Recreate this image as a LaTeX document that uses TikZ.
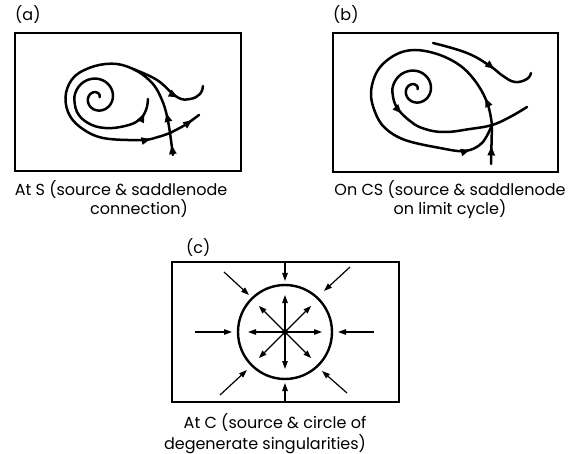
\documentclass[tikz,border=0pt]{standalone}
\usepackage{fontspec}
\setmainfont{Poppins}
\usetikzlibrary{arrows.meta,decorations.markings}
\tikzset{
  traj/.style={line width=2.5pt, line cap=round, line join=round},
  frame/.style={line width=2pt},
  am/.style={postaction={decorate, decoration={markings, mark=at position #1 with {\arrow{Triangle[length=9pt,width=7pt]}}}}},
  ar/.style={postaction={decorate, decoration={markings, mark=at position #1 with {\arrowreversed{Triangle[length=9pt,width=7pt]}}}}},
  ray/.style={line width=1.2pt, -{Triangle[length=8pt,width=5.5pt]}},
  capt/.style={font=\fontsize{16}{18}\selectfont, inner sep=0pt, anchor=base},
  lbl/.style={font=\fontsize{16}{18}\selectfont, inner sep=0pt, anchor=base west},
}
\begin{document}
\begin{tikzpicture}[x=1pt,y=-1pt]
\useasboundingbox (0,0) rectangle (570,454);
% ---------- panel (a)
\node[lbl] (la) at (15,21) {(a)};
\draw[frame] (15,33) rectangle (241,171);
\draw[traj] plot[domain=0.3:9.4248, samples=120, smooth, variable=\t]
  ({97+(2+2.2*\t)*cos(\t r)}, {98-(2+2.2*\t)*sin(\t r)});
\draw[traj, am=0.86] plot[smooth, tension=0.7] coordinates
  {(74.3,98) (77,112) (88,123) (105,128) (125,126) (139,120) (146,110) (148,99)};
\coordinate (Sa) at (170,133);
\draw[traj, am=0.45] (173,155) -- (Sa);
\draw[traj, am=0.07, am=0.93] plot[smooth, tension=0.6] coordinates
  {(Sa) (167,116) (162,100) (153,84) (137,71) (117,64) (95,66) (75,76) (66,93) (68,112) (80,127) (103,138) (142,140) (158,137) (Sa)};
\draw[traj, am=0.75] plot[smooth] coordinates {(Sa) (185,125) (199,115)};
\draw[traj, ar=0.38] plot[smooth, tension=0.7] coordinates
  {(203,86) (200,94) (190,99) (177,97) (157,80) (133,69)};
\node[capt] (ca1) at (121,196) {At S (source \& saddlenode};
\node[capt] (ca2) at (139,215) {connection)};
% ---------- panel (b)
\node[lbl] (lb) at (333,21) {(b)};
\draw[frame] (333,33) rectangle (558,172);
\draw[traj] plot[domain=0.3:9.4248, samples=120, smooth, variable=\t]
  ({415+(2+2.2*\t)*cos(\t r)}, {90-(2+2.2*\t)*sin(\t r)});
\coordinate (Sb) at (492,125);
\draw[traj, am=0.16] plot[smooth, tension=0.7] coordinates
  {(392.3,90) (396,106) (410,121) (425,129) (445,132) (470,129) (Sb) (510,117) (527,107)};
\draw[traj, am=0.45] (491,164) -- (Sb);
\draw[traj, am=0.08, am=0.9] plot[smooth, tension=0.6] coordinates
  {(Sb) (488,105) (478,85) (462,67) (440,55) (415,50) (395,55) (378,70) (371,92) (375,112) (385,128) (405,140) (440,148) (465,151) (482,143) (Sb)};
\draw[traj, ar=0.4] plot[smooth, tension=0.7] coordinates
  {(531,73) (527,79) (515,82) (503,76) (490,66) (467,53) (433,43)};
\node[capt] (cb1) at (450,196) {On CS (source \& saddlenode};
\node[capt] (cb2) at (450,215) {on limit cycle)};
% ---------- panel (c)
\node[lbl] (lc) at (186,254) {(c)};
\draw[frame] (172,262) rectangle (399,402);
\node[circle, draw, line width=2.4pt, minimum size=94pt, inner sep=0pt] (circ) at (285,332) {};
\node[circle, fill, inner sep=0pt, minimum size=6pt] (ctr) at (285,332) {};
\foreach \a in {0,45,...,315}
  \draw[ray] (ctr.center) -- ++({37*cos(\a)},{-37*sin(\a)});
\draw[ray] (195,332) -- (232,332);
\draw[ray] (374,332) -- (338,332);
\draw[ray] (285,263) -- (285,281);
\draw[ray] (285,401) -- (285,383);
\draw[ray] (224,272) -- (249,295);
\draw[ray] (350,267) -- (324,291);
\draw[ray] (220,395) -- (247,370);
\draw[ray] (347,393) -- (322,371);
\node[capt] (cc1) at (275,428) {At C (source \& circle of};
\node[capt] (cc2) at (265,449) {degenerate singularities)};
\end{tikzpicture}
\end{document}
